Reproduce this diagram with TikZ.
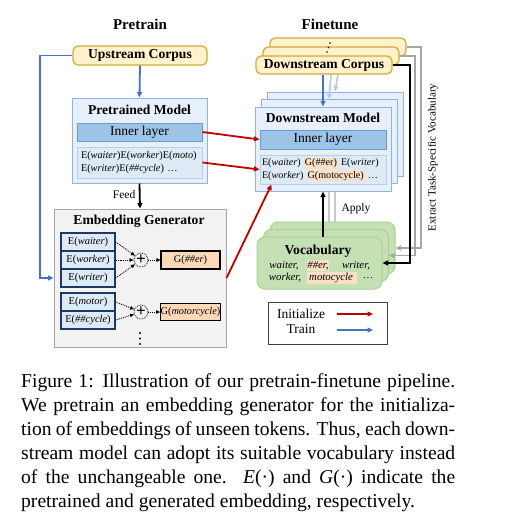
\documentclass[tikz,border=0pt]{standalone}
\usepackage{fontspec}
\setmainfont{Liberation Serif}
\usetikzlibrary{arrows.meta,calc}
\definecolor{corpusfill}{HTML}{FFF2CC}
\definecolor{corpusline}{HTML}{D6A936}
\definecolor{modelfill}{HTML}{E7F0FA}
\definecolor{modelline}{HTML}{8DB4E2}
\definecolor{innerfill}{HTML}{9DC3E6}
\definecolor{innerline}{HTML}{6A9BD1}
\definecolor{embfill}{HTML}{DEEBF7}
\definecolor{embline}{HTML}{B4CDE9}
\definecolor{egfill}{HTML}{F2F2F2}
\definecolor{egline}{HTML}{A6A6A6}
\definecolor{eline}{HTML}{203864}
\definecolor{gfill}{HTML}{FBD9B8}
\definecolor{vocfill}{HTML}{C5E0B4}
\definecolor{vocline}{HTML}{A9D18E}
\definecolor{initred}{HTML}{C00000}
\definecolor{fadered}{HTML}{F4B8B8}
\definecolor{trainblue}{HTML}{4472C4}
\definecolor{fadeblue}{HTML}{B4C7E7}
\definecolor{grayline}{HTML}{A6A6A6}
\definecolor{fadegray}{HTML}{C8C8C8}
\definecolor{hlorange}{HTML}{FBE0C8}
\newcommand{\hlbox}[1]{{\setlength{\fboxsep}{0.8pt}\colorbox{hlorange}{#1}}}
\pgfdeclarelayer{background}
\pgfsetlayers{background,main}
\tikzset{
  heading/.style={font=\bfseries\fontsize{15}{18}\selectfont, inner sep=0pt},
  boxtitle/.style={font=\bfseries\fontsize{13.6}{16}\selectfont, inner sep=0pt},
  corpus/.style={draw=corpusline, fill=corpusfill, rounded corners=5pt, line width=1.2pt,
    minimum width=134pt, minimum height=19pt, inner sep=0pt, font=\bfseries\fontsize{13.6}{16}\selectfont},
  modelbox/.style={draw=modelline, fill=modelfill, line width=1pt, inner sep=0pt},
  innerbox/.style={draw=innerline, fill=innerfill, line width=1pt, inner sep=0pt,
    minimum width=125pt, minimum height=18pt, font=\fontsize{13.5}{16}\selectfont},
  emblist/.style={draw=embline, fill=embfill, line width=1pt, inner xsep=4pt, inner ysep=0pt,
    minimum width=125pt, minimum height=31pt, text width=117pt, align=left,
    font=\fontsize{10.3}{12.5}\selectfont},
  egbox/.style={draw=egline, fill=egfill, line width=1pt, inner sep=0pt},
  ebox/.style={draw=eline, fill=embfill, line width=1.4pt, inner sep=0pt,
    minimum width=54pt, minimum height=18pt, font=\fontsize{10.5}{12}\selectfont},
  gbox/.style={draw=black, fill=gfill, line width=1.1pt, inner sep=0pt,
    minimum width=59pt, minimum height=18pt, font=\fontsize{10.3}{12}\selectfont},
  plusnode/.style={circle, draw, densely dotted, line width=0.8pt, minimum size=14pt, inner sep=0pt,
    font=\bfseries\fontsize{17}{17}\selectfont},
  dotarrow/.style={densely dotted, line width=0.9pt, -{Triangle[length=4pt,width=3.5pt]}},
  vocbox/.style={draw=vocline, fill=vocfill, line width=1pt, rounded corners=8pt,
    minimum width=125pt, minimum height=52pt, inner sep=0pt},
  vword/.style={font=\itshape\fontsize{10.8}{12}\selectfont, inner sep=0pt},
  lbl/.style={font=\fontsize{11.5}{13}\selectfont, inner sep=0pt},
  tip/.style={-{Triangle[length=5.5pt,width=5pt]}},
  bluearrow/.style={draw=trainblue, line width=1.8pt, tip},
  redarrow/.style={draw=initred, line width=1.8pt, tip},
  blackarrow/.style={draw=black, line width=1.8pt, tip},
  grayarrow/.style={draw=grayline, line width=1.8pt, tip},
}
\begin{document}
\begin{tikzpicture}[x=1pt,y=-1pt]
\useasboundingbox[fill=white] (0,0) rectangle (516,531);

% headings
\node[heading] (ptitle) at (140,24) {Pretrain};
\node[heading] (ftitle) at (330,24) {Finetune};

% ---------- Pretrain side
\node[corpus] (uc) at (140,55.5) {Upstream Corpus};
\node[modelbox, minimum width=135pt, minimum height=85pt] (pm) at (139.5,140.5) {};
\node[boxtitle] (pmt) at (139.5,110) {Pretrained Model};
\node[innerbox] (pmi) at (139.5,132) {Inner layer};
\node[emblist] (pme) at (139.5,162.5) {E(\textit{waiter})E(\textit{worker})E(\textit{moto})\\E(\textit{writer})E(\textit{\#\#cycle}) \dots};

\node[egbox, minimum width=172pt, minimum height=138pt] (eg) at (140,278) {};
\node[boxtitle] (egt) at (139,221) {Embedding Generator};
\node[ebox] (e1) at (88,242) {E(\textit{waiter})};
\node[ebox] (e2) at (88,260) {E(\textit{worker})};
\node[ebox] (e3) at (88,278) {E(\textit{writer})};
\node[ebox] (e4) at (88,302) {E(\textit{motor})};
\node[ebox] (e5) at (88,320) {E(\textit{\#\#cycle})};
\node[plusnode] (p1) at (141,260) {+};
\node[plusnode] (p2) at (141,312) {+};
\node[gbox] (g1) at (190.5,260) {G(\textit{\#\#er})};
\node[gbox, minimum height=17pt] (g2) at (190.5,312) {G(\textit{motorcycle})};
\foreach \yy in {333,338.5,344} \fill (140,\yy) circle (1.2pt);

\draw[dotarrow] (e1.east) -- (p1);
\draw[dotarrow] (e2.east) -- (p1);
\draw[dotarrow] (e3.east) -- (p1);
\draw[dotarrow] (p1) -- (g1);
\draw[dotarrow] (e4.east) -- (p2);
\draw[dotarrow] (e5.east) -- (p2);
\draw[dotarrow] (p2) -- (g2);

% ---------- Finetune side
\node[corpus, minimum width=136pt, minimum height=18pt] (cback) at (338,47) {};
\node[corpus, minimum width=136pt, minimum height=18pt] (cmid) at (331,56) {};
\node[corpus, minimum width=136pt, minimum height=18pt] (cfront) at (324,65) {Downstream Corpus};
\foreach \xx/\yy in {330/43,328.5/47.5,327/52} \fill (\xx,\yy) circle (0.9pt);

\node[modelbox, minimum width=136pt, minimum height=84pt] (mback) at (335,134) {};
\node[modelbox, minimum width=136pt, minimum height=84pt] (mmid) at (329,141.5) {};
\node[modelbox, minimum width=136pt, minimum height=84pt] (mfront) at (323,149) {};
\node[boxtitle] (mt) at (323,118) {Downstream Model};
\node[innerbox, minimum width=126pt, minimum height=19pt] (mi) at (323,139.5) {Inner layer};
\node[emblist, minimum width=126pt, minimum height=29pt, text width=122pt, inner xsep=2pt,
      font=\fontsize{10.1}{12.5}\selectfont] (me) at (323,169.5)
  {\mbox{E(\textit{waiter}) \hlbox{G(\#\#er)} E(\textit{writer})}\\\mbox{E(\textit{worker}) \hlbox{G(motocycle)} \dots}};

\node[vocbox] (vback) at (332.5,248) {};
\node[vocbox] (vmid) at (326,255.5) {};
\node[vocbox] (vfront) at (319.5,263) {};
\node[boxtitle] (vt) at (318,251) {Vocabulary};
\node[vword] (w1) at (284,265.5) {waiter,};
\node[vword] (w2) at (318,265.5) {\hlbox{\#\#er,}};
\node[vword] (w3) at (356,265.5) {writer,};
\node[vword] (w4) at (285,278) {worker,};
\node[vword] (w5) at (332,278) {\hlbox{\,motocycle\,\,}};
\node[vword] (w6) at (368,278) {\upshape\dots};

% legend
\node[draw=black!75, line width=0.9pt, minimum width=119pt, minimum height=42pt, inner sep=0pt] (lg) at (327.5,323) {};
\node[font=\fontsize{13.5}{15}\selectfont, inner sep=0pt] (li) at (301,313.5) {Initialize};
\node[font=\fontsize{13.5}{15}\selectfont, inner sep=0pt] (lt) at (301,329.5) {Train};
\coordinate (la1) at (337,314);
\coordinate (la2) at (373,314);
\coordinate (lb1) at (337,330);
\coordinate (lb2) at (373,330);
\draw[redarrow, line width=1.5pt] (la1) -- (la2);
\draw[bluearrow, line width=1.5pt] (lb1) -- (lb2);

% rotated label
\node[rotate=90, font=\fontsize{11}{13}\selectfont, inner sep=0pt] (extract) at (433,157.5) {Extract Task-Specific Vocabulary};

% ---------- faded connectors behind
\begin{pgfonlayer}{background}
\draw[fadered, line width=1.3pt] (pmi.east) -- ($(mi.west)+(6,-7.5)$);
\draw[fadered, line width=1.3pt] (pmi.east) -- ($(mi.west)+(12,-15)$);
\draw[fadered, line width=1.3pt] (pme.east) -- ($(me.west)+(6,-7.5)$);
\draw[fadered, line width=1.3pt] (pme.east) -- ($(me.west)+(12,-15)$);
\draw[fadered, line width=1.3pt] (eg.east) -- ($(me.south west)+(18,-7.5)$);
\draw[fadered, line width=1.3pt] (eg.east) -- ($(me.south west)+(24,-15)$);
\end{pgfonlayer}

% ---------- main connectors
\draw[bluearrow] (uc.south) -- (pm.north);
\draw[bluearrow] (uc.west) -- (40,55.5) -- (40,278) -- (eg.west);
\draw[blackarrow] (pm.south) -- (eg.north);
\node[lbl, anchor=east] (feed) at (135.5,195) {Feed};

\draw[redarrow] (pmi.east) -- (mi.west);
\draw[redarrow] (pme.east) -- (me.west);
\draw[redarrow] (eg.east) -- ($(me.south west)+(12,0)$);

\draw[draw=fadeblue, line width=1.6pt, -{Triangle[length=5pt,width=4.5pt]}] (cfront.south -| cmid.south) -- (mmid.north);
\draw[draw=fadeblue, line width=1.6pt, -{Triangle[length=5pt,width=4.5pt]}] (cfront.south -| cback.south) -- (mback.north);
\draw[bluearrow] (cfront.south -| mfront.north) -- (mfront.north);

\draw[draw=fadegray, line width=1.6pt] (vback.north -| mmid.south) -- (mfront.south -| mmid.south);
\draw[draw=fadegray, line width=1.6pt] (vback.north -| mback.south) -- (mfront.south -| mback.south);
\draw[blackarrow] (vfront.north -| mfront.south) -- (mfront.south);
\node[lbl] (apply) at (356,209) {Apply};

\draw[grayarrow] (cback.east) -- (421,47) -- (421,248) -- (vback.east);
\draw[grayarrow] (cmid.east) -- (415,56) -- (415,255.5) -- (vmid.east);
\draw[blackarrow] (cfront.east) -- (410,65) -- (410,263) -- (vfront.east);

% ---------- caption
\node[anchor=north west, inner sep=0pt, align=left, font=\fontsize{19.6}{24}\selectfont] (caption) at (21,370.2)
{\strut\makebox[434pt][s]{Figure 1: Illustration of our pretrain-finetune pipeline.}\\
 \makebox[434pt][s]{We pretrain an embedding generator for the initializa-}\\
 \makebox[434pt][s]{tion of embeddings of unseen tokens. Thus, each down-}\\
 \makebox[434pt][s]{stream model can adopt its suitable vocabulary instead}\\
 \makebox[434pt][s]{of the unchangeable one.\ \ \textit{E}(·) and \textit{G}(·) indicate the}\\
 \makebox[434pt][l]{pretrained and generated embedding, respectively.}};
\end{tikzpicture}
\end{document}
